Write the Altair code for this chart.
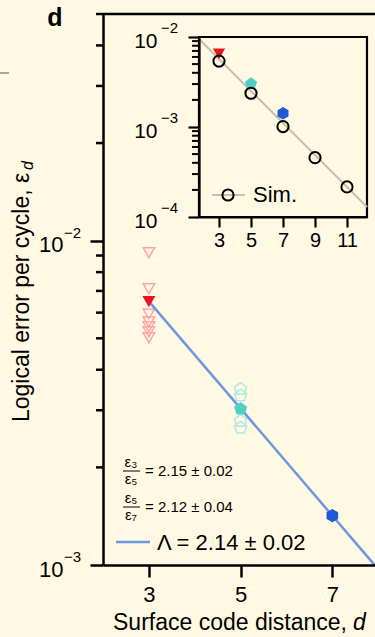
import altair as alt
import pandas as pd

# ---------------- data ----------------
d3_open_eps = [9.18e-3, 7.11e-3, 5.95e-3, 5.62e-3, 5.43e-3, 5.24e-3, 5.02e-3]
d5_open_eps = [3.49e-3, 3.33e-3, 2.78e-3, 2.65e-3]
exp_d = [3, 5, 7]
exp_eps = [6.49e-3, 3.03e-3, 1.42e-3]
fit_d = [3, 8]
fit_eps = [6.5e-3, 9.7e-4]
sim_d = [3, 5, 7, 9, 11]
sim_eps = [5.4e-3, 2.37e-3, 1.01e-3, 4.56e-4, 2.16e-4]
simfit_d = [1.75, 12.25]
simfit_eps = [9.5e-3, 1.29e-4]

main_x_ticks = [3, 5, 7]
main_major = [0.001, 0.01]
main_exp = ["\u22123", "\u22122"]
main_minor = [0.002, 0.003, 0.004, 0.005, 0.006, 0.007, 0.008, 0.009,
              0.02, 0.03, 0.04, 0.05]
inset_x_ticks = [3, 5, 7, 9, 11]
inset_major = [1e-4, 1e-3, 1e-2]
inset_exp = ["\u22124", "\u22123", "\u22122"]
inset_minor = [2e-4, 3e-4, 4e-4, 5e-4, 6e-4, 7e-4, 8e-4, 9e-4,
               2e-3, 3e-3, 4e-3, 5e-3, 6e-3, 7e-3, 8e-3, 9e-3]

ratio_texts = ["= 2.15 \u00b1 0.02", "= 2.12 \u00b1 0.04"]
ratio_num = ["\u03b5\u2083", "\u03b5\u2085"]
ratio_den = ["\u03b5\u2085", "\u03b5\u2087"]
lambda_text = "\u039b = 2.14 \u00b1 0.02"

# ---------------- style ----------------
FONT = "Liberation Sans"
BG = "#FFF9E3"
RED, RED_L = "#E8141C", "#FFA3A3"
CYAN, CYAN_L = "#4ED0C6", "#AAE9E3"
BLUE, BLUE_L = "#1F5AD6", "#6D98DF"
GREY = "#C8BEB0"
W, H = 272, 551
PENT = "M0,-1 L0.951,-0.309 L0.588,0.809 L-0.588,0.809 L-0.951,-0.309 Z"
HEX = "M0,-1 L0.866,-0.5 L0.866,0.5 L0,1 L-0.866,0.5 L-0.866,-0.5 Z"

def df(d, e):
    return pd.DataFrame({"d": d, "eps": e})

one = pd.DataFrame({"k": [0]})

axis_common = dict(grid=False, title=None, domainColor="black", tickColor="black",
                   labelColor="black", labelFont=FONT, zindex=1)

def mx():
    return alt.X("d:Q", scale=alt.Scale(domain=[2, 7.93], nice=False, zero=False),
                 axis=alt.Axis(values=main_x_ticks, tickSize=12, tickWidth=2.5,
                               domainWidth=2.5, labelFontSize=22, labelPadding=7,
                               labelFlush=False, **axis_common))

def my():
    return alt.Y("eps:Q", scale=alt.Scale(type="log", domain=[0.001, 0.05], nice=False),
                 axis=alt.Axis(values=main_major, tickSize=13, tickWidth=2.5,
                               domainWidth=2.5, labelFontSize=22, labelPadding=27,
                               labelOffset=4, labelExpr="'10'", labelBaseline="middle",
                               **axis_common))

def ix():
    return alt.X("d:Q", scale=alt.Scale(domain=[1.75, 12.25], range=[96, 264], nice=False, zero=False),
                 axis=alt.Axis(values=inset_x_ticks, orient="bottom", offset=-348, tickSize=10,
                               tickWidth=2.2, domainWidth=2.2, labelFontSize=20, labelPadding=3,
                               labelFlush=False, **axis_common))

def iy():
    return alt.Y("eps:Q", scale=alt.Scale(type="log", domain=[1e-4, 1e-2], range=[203, 23], nice=False),
                 axis=alt.Axis(values=inset_major, orient="left", offset=-96, tickSize=11,
                               tickWidth=2.2, domainWidth=2.2, labelFontSize=21, labelPadding=31,
                               labelOffset=4, labelExpr="'10'", labelBaseline="middle",
                               **axis_common))

# ---------------- main panel ----------------
open_tri = alt.Chart(df([3] * len(d3_open_eps), d3_open_eps)).mark_point(
    shape="triangle-down", filled=False, size=130, strokeWidth=1.5, color=RED_L, opacity=1
).encode(x=mx(), y=my())
open_pent = alt.Chart(df([5] * len(d5_open_eps), d5_open_eps)).mark_point(
    shape=PENT, filled=False, size=165, strokeWidth=1.5, color=CYAN_L, opacity=1
).encode(x=mx(), y=my())
fit_line = alt.Chart(df(fit_d, fit_eps)).mark_line(color=BLUE_L, strokeWidth=2.5, clip=True).encode(
    x=mx(), y=my())
f_tri = alt.Chart(df(exp_d[:1], exp_eps[:1])).mark_point(
    shape="triangle-down", filled=True, size=170, color=RED, opacity=1).encode(x=mx(), y=my())
f_pent = alt.Chart(df(exp_d[1:2], exp_eps[1:2])).mark_point(
    shape=PENT, filled=True, size=190, color=CYAN, opacity=1).encode(x=mx(), y=my())
f_hex = alt.Chart(df(exp_d[2:], exp_eps[2:])).mark_point(
    shape=HEX, filled=True, size=180, color=BLUE, opacity=1).encode(x=mx(), y=my())
minor_main = alt.Chart(pd.DataFrame({"eps": main_minor})).mark_rule(
    color="black", strokeWidth=2.5).encode(y=my(), x=alt.value(-7), x2=alt.value(0))
exp_main = alt.Chart(pd.DataFrame({"eps": main_major, "e": main_exp})).mark_text(
    align="left", baseline="middle", dy=-8, fontSize=15, font=FONT, color="black"
).encode(y=my(), x=alt.value(-39), text="e:N")

top_border = alt.Chart(one).mark_rule(color="black", strokeWidth=2.5).encode(
    x=alt.value(0), x2=alt.value(W), y=alt.value(0))
panel_label = alt.Chart(one).mark_text(text="d", fontSize=25, fontWeight="bold", font=FONT,
                                       color="black", align="center", baseline="middle").encode(
    x=alt.value(-48), y=alt.value(4))
side_dash = alt.Chart(one).mark_rule(color="#8a8a8a", strokeWidth=1.5).encode(
    x=alt.value(-103), x2=alt.value(-94), y=alt.value(59))

ytitle = alt.Chart(one).mark_text(text="Logical error per cycle, \u03b5", angle=270, align="left",
                                  baseline="middle", fontSize=23, font=FONT, color="black").encode(
    x=alt.value(-81), y=alt.value(408))
ytitle_sub = alt.Chart(one).mark_text(text="d", angle=270, align="left", baseline="middle",
                                      fontSize=16, font=FONT, fontStyle="italic", color="black").encode(
    x=alt.value(-75), y=alt.value(156))
xtitle = alt.Chart(one).mark_text(text="Surface code distance,", align="left", baseline="alphabetic",
                                  fontSize=23, font=FONT, color="black").encode(
    x=alt.value(10), y=alt.value(616))
xtitle_d = alt.Chart(one).mark_text(text="d", align="left", baseline="alphabetic", fontSize=23,
                                    font=FONT, fontStyle="italic", color="black").encode(
    x=alt.value(250), y=alt.value(616))

ratio_layers = []
for i, y0 in enumerate([457, 493]):
    ratio_layers += [
        alt.Chart(one).mark_text(text=ratio_num[i], align="center", baseline="middle", fontSize=15,
                                 font=FONT, color="black").encode(x=alt.value(28), y=alt.value(y0 - 9)),
        alt.Chart(one).mark_rule(color="black", strokeWidth=1).encode(
            x=alt.value(20), x2=alt.value(37), y=alt.value(y0)),
        alt.Chart(one).mark_text(text=ratio_den[i], align="center", baseline="middle", fontSize=15,
                                 font=FONT, color="black").encode(x=alt.value(28), y=alt.value(y0 + 8)),
        alt.Chart(one).mark_text(text=ratio_texts[i], align="left", baseline="middle", fontSize=15,
                                 font=FONT, color="black").encode(x=alt.value(42), y=alt.value(y0)),
    ]

lam_line = alt.Chart(one).mark_rule(color=BLUE_L, strokeWidth=2.5).encode(
    x=alt.value(13), x2=alt.value(47), y=alt.value(528))
lam_text = alt.Chart(one).mark_text(text=lambda_text, align="left", baseline="middle", fontSize=22,
                                    font=FONT, color="black").encode(x=alt.value(54), y=alt.value(529))

main = alt.layer(open_tri, open_pent, fit_line, f_tri, f_pent, f_hex, minor_main, exp_main,
                 top_border, panel_label, side_dash, ytitle, ytitle_sub, xtitle, xtitle_d,
                 *ratio_layers, lam_line, lam_text)

# ---------------- inset ----------------
frame = alt.Chart(one).mark_rect(fillOpacity=0, stroke="black", strokeWidth=2.2).encode(
    x=alt.value(96), x2=alt.value(264), y=alt.value(23), y2=alt.value(203))
sim_line = alt.Chart(df(simfit_d, simfit_eps)).mark_line(color=GREY, strokeWidth=2.2, clip=False).encode(
    x=ix(), y=iy())
i_tri = alt.Chart(df(exp_d[:1], exp_eps[:1])).mark_point(
    shape="triangle-down", filled=True, size=150, color=RED, opacity=1).encode(x=ix(), y=iy())
i_pent = alt.Chart(df(exp_d[1:2], exp_eps[1:2])).mark_point(
    shape=PENT, filled=True, size=165, color=CYAN, opacity=1).encode(x=ix(), y=iy())
i_hex = alt.Chart(df(exp_d[2:], exp_eps[2:])).mark_point(
    shape=HEX, filled=True, size=160, color=BLUE, opacity=1).encode(x=ix(), y=iy())
sim_pts = alt.Chart(df(sim_d, sim_eps)).mark_point(
    shape="circle", filled=False, size=125, strokeWidth=2, color="black", opacity=1).encode(x=ix(), y=iy())
minor_inset = alt.Chart(pd.DataFrame({"eps": inset_minor})).mark_rule(
    color="black", strokeWidth=2).encode(y=iy(), x=alt.value(89), x2=alt.value(96))
exp_inset = alt.Chart(pd.DataFrame({"eps": inset_major, "e": inset_exp})).mark_text(
    align="left", baseline="middle", dy=-9, fontSize=15, font=FONT, color="black"
).encode(y=iy(), x=alt.value(58), text="e:N")
sim_leg_line = alt.Chart(one).mark_rule(color=GREY, strokeWidth=2.2).encode(
    x=alt.value(109), x2=alt.value(142), y=alt.value(181))
sim_leg_pt = alt.Chart(one).mark_point(shape="circle", filled=False, size=125, strokeWidth=2,
                                       color="black", opacity=1).encode(x=alt.value(125), y=alt.value(181))
sim_leg_txt = alt.Chart(one).mark_text(text="Sim.", align="left", baseline="middle", fontSize=22,
                                       font=FONT, color="black").encode(x=alt.value(150), y=alt.value(181))

inset = alt.layer(frame, sim_line, i_tri, i_pent, i_hex, sim_pts, minor_inset, exp_inset,
                  sim_leg_line, sim_leg_pt, sim_leg_txt)

chart = alt.layer(main, inset).resolve_scale(x="independent", y="independent").properties(
    width=W, height=H,
    autosize=alt.AutoSizeParams(type="none"),
    padding={"left": 103, "top": 14, "right": 0, "bottom": 72},
).configure(background=BG).configure_view(stroke=None)

chart.save("out.html", embed_options={"renderer": "svg", "actions": False})
